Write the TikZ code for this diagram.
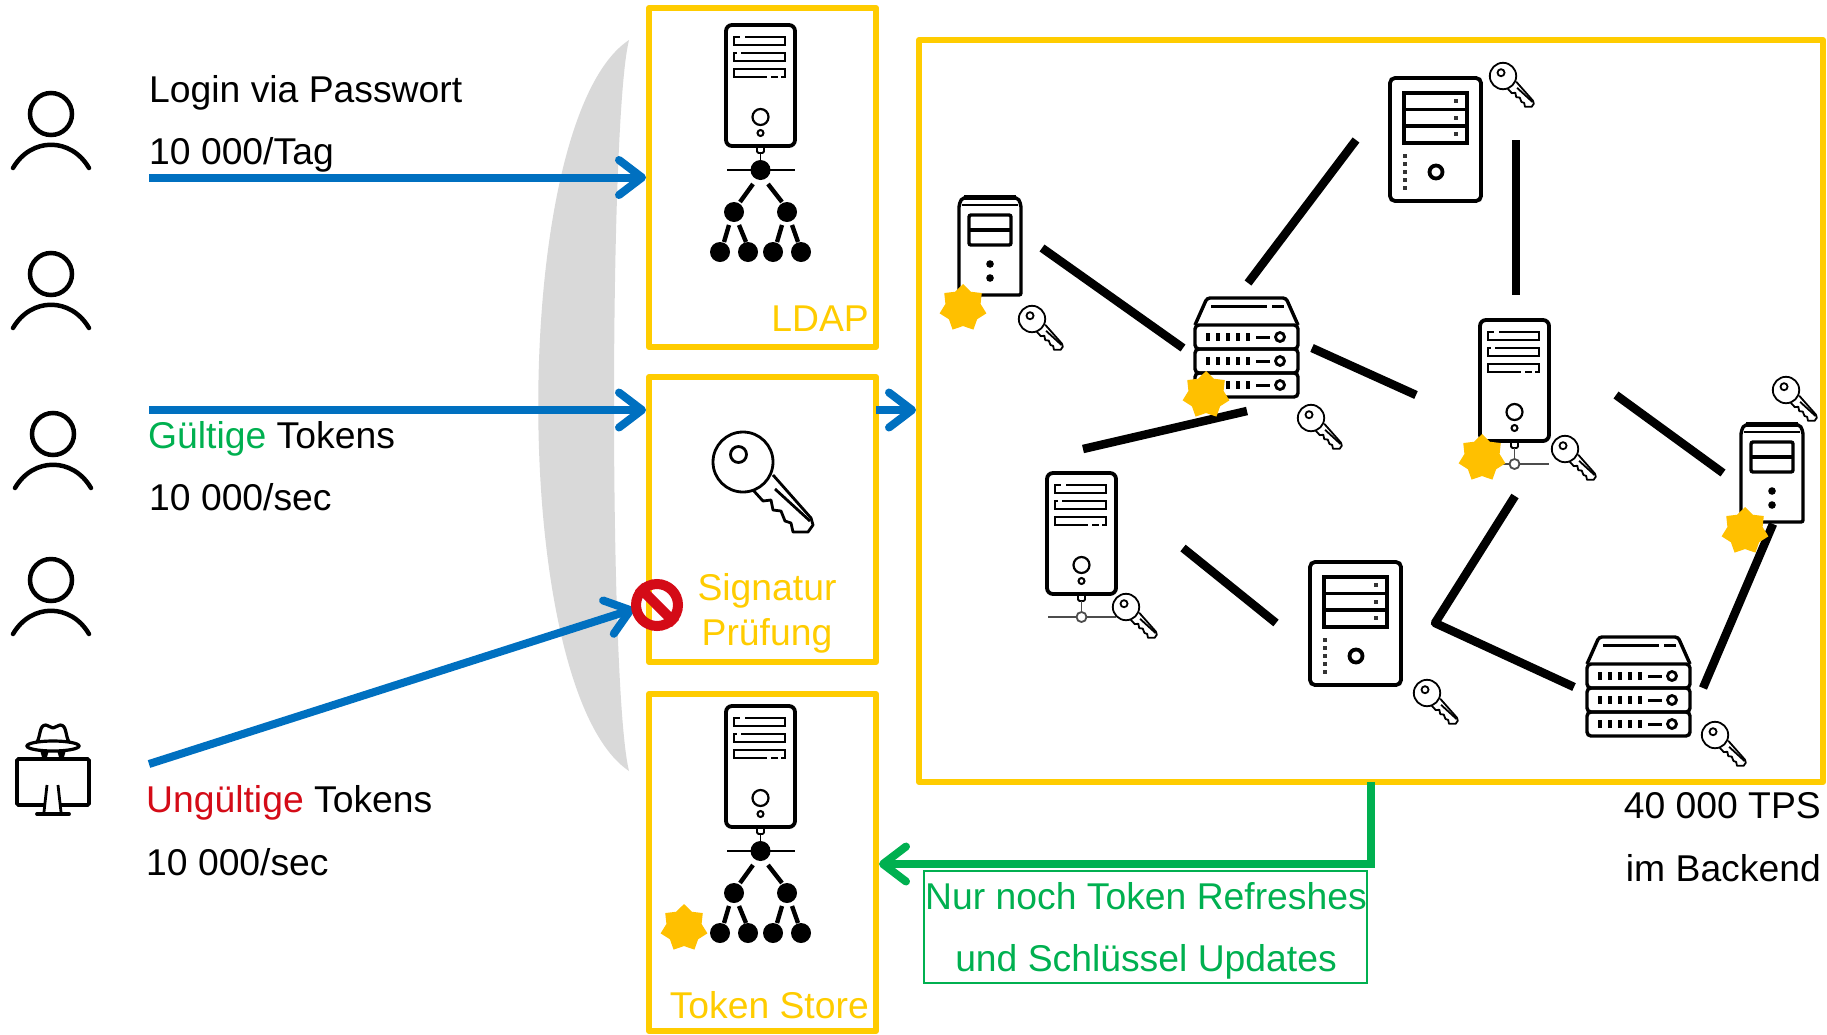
\documentclass[tikz,border=0pt]{standalone}
\usepackage{fontspec}
\setmainfont{Liberation Sans}
\usetikzlibrary{calc,arrows.meta,shapes.geometric}

\definecolor{boxYellow}{HTML}{FFCC00}
\definecolor{starYellow}{HTML}{FFC000}
\definecolor{flowBlue}{HTML}{0070C0}
\definecolor{okGreen}{HTML}{00B050}
\definecolor{badRed}{HTML}{D40B17}
\definecolor{shieldGray}{HTML}{D9D9D9}

\tikzset{
	sysbox/.style={draw=boxYellow,line width=6pt,line join=round,outer sep=0pt,inner sep=0pt},
	bigtext/.style={inner sep=0pt,font=\fontsize{37.3}{45}\selectfont},
	yellowtext/.style={bigtext,text=boxYellow},
	flow/.style={draw=flowBlue,line width=8pt,shorten >=3pt,-{Straight Barb[length=23pt,width=35pt,round]}},
	backflow/.style={draw=okGreen,line width=8pt,shorten >=3pt,-{Straight Barb[length=23pt,width=35pt,round]}},
	link/.style={draw=black,line width=8.5pt},
	burst/.style={star,star points=7,star point ratio=1.33,minimum size=48pt,inner sep=0pt,fill=starYellow},
	usericon/.pic={
		\draw[line width=4.5pt] (0,0) circle[radius=21];
		\draw[line width=4.5pt,line cap=round] (-38,54) .. controls (-20,23) and (20,23) .. (38,54);
	},
	spyicon/.pic={
		\draw[line width=3.6pt,rounded corners=1.5pt] (0,0) rectangle (72,46);
		\fill[white] (30,26) -- (41,26) -- (44,53) -- (27,53) -- cycle;
		\draw[line width=2.8pt] (30,26) -- (27,53);
		\draw[line width=2.8pt] (41,26) -- (44,53);
		\draw[line width=3.8pt,line cap=round] (20,55) -- (52,55);
		\draw[line width=3.2pt,fill=white] (36,-13) ellipse[x radius=26,y radius=5];
		\draw[line width=3.2pt,line join=round] (20,-17) .. controls (24,-24) and (22,-34) .. (29,-34) .. controls (32,-34) and (33,-31) .. (36,-31) .. controls (39,-31) and (40,-34) .. (43,-34) .. controls (50,-34) and (48,-24) .. (52,-17);
		\fill (23,-9) -- (32,-9) -- (30,-2) -- (25,-2) -- cycle;
		\fill (40,-9) -- (49,-9) -- (47,-2) -- (42,-2) -- cycle;
	},
	towericon/.pic={
		\draw[line width=3.8pt,rounded corners=6pt] (0,0) rectangle (69,121);
		\foreach \s in {12,28,44}{
			\draw[line width=2.4pt] (8,\s) rectangle (59,\s+8);
		}
		\draw[white,line width=3pt] (14,12) -- (19,12);
		\draw[white,line width=3pt] (11,28) -- (15,28);
		\draw[white,line width=3pt] (41,52) -- (45,52);
		\draw[white,line width=3pt] (52,52) -- (55,52);
		\draw[line width=2.2pt] (34.5,92) circle[radius=8];
		\draw[line width=2pt] (34.5,108) circle[radius=3];
	},
	opennet/.pic={
		\draw[line width=1.8pt,rounded corners=1.5pt] (31,121) rectangle (38,128);
		\draw[line width=1.5pt,black!70] (34.5,128) -- (34.5,139);
		\draw[line width=1.5pt,black!70] (1,144) -- (69,144);
		\draw[line width=1.8pt,black!70,fill=white] (34.5,144) circle[radius=5];
	},
	treeicon/.pic={
		\draw[line width=1.8pt,rounded corners=1.5pt] (31,121) rectangle (38,128);
		\draw[line width=1.5pt] (34.5,128) -- (34.5,140);
		\draw[line width=1.5pt] (1,145) -- (69,145);
		\fill (34.5,145) circle[radius=10];
		\foreach \x in {8,61}{
			\fill (\x,187) circle[radius=10];
		}
		\foreach \x in {-6,22,47,75}{
			\fill (\x,227) circle[radius=10];
		}
		\draw[line width=4.4pt] (27,159) -- (14,177);
		\draw[line width=4.4pt] (42,159) -- (56,177);
		\draw[line width=4.4pt] (3,200) -- (-2,217);
		\draw[line width=4.4pt] (13,200) -- (20,217);
		\draw[line width=4.4pt] (56,200) -- (51,217);
		\draw[line width=4.4pt] (66,200) -- (72,217);
	},
	slimicon/.pic={
		\draw[line width=3.4pt,rounded corners=2pt] (0,8) -- (3,1) -- (59,1) -- (62,8) -- (62,98) -- (0,98) -- cycle;
		\draw[line width=2pt] (3,8) -- (59,8);
		\draw[line width=5pt] (5,0) -- (57,0);
		\draw[line width=3.4pt,rounded corners=2pt] (10,18) rectangle (52,48);
		\draw[line width=3.4pt] (10,33) -- (52,33);
		\fill (31,67) circle[radius=3.8];
		\fill (31,81) circle[radius=3.8];
	},
	wideicon/.pic={
		\draw[line width=3.8pt,rounded corners=5pt] (0,0) rectangle (91,123);
		\draw[line width=3.6pt] (14,15) rectangle (77,65);
		\draw[line width=3.6pt] (14,31.5) -- (77,31.5);
		\draw[line width=3.6pt] (14,48) -- (77,48);
		\foreach \s in {23,39.5,56}{
			\fill[black!80] (64,\s-2) rectangle (68,\s+2);
		}
		\foreach \s in {78,86,94,102,110}{
			\fill[black!80] (13,\s-2) rectangle (17,\s+2);
		}
		\draw[line width=3.8pt] (46,94) circle[radius=6.5];
	},
	rackicon/.pic={
		\draw[line width=3.4pt,rounded corners=3pt] (0,28) -- (12,1) -- (91,1) -- (103,28);
		\draw[line width=3pt] (16,9) -- (72,9);
		\draw[line width=3pt] (77,9) -- (89,9);
		\foreach \s in {28,52,76}{
			\draw[line width=3.4pt,rounded corners=4pt] (0,\s) rectangle (103,\s+24);
			\foreach \t in {13,23,33,43,53}{
				\draw[line width=3.4pt] (\t,\s+8) -- (\t,\s+16);
			}
			\draw[line width=3pt] (61,\s+12) -- (75,\s+12);
			\draw[line width=2.8pt] (85,\s+12) circle[radius=4.5];
		}
	},
	keyicon/.pic={
		\draw[line join=round] (0,0) circle[radius=30];
		\draw (-4.5,-7.5) circle[radius=8];
		\draw[line join=round] (10,28) -- (20,39) -- (28,38) -- (30,48) -- (38,49) -- (42,59) -- (48,61) -- (50,70) -- (65,70) -- (70,63) -- (68,56) -- (30,13);
		\draw (32,27) -- (67,59);
	},
}

\begin{document}
\begin{tikzpicture}[x=1pt,y=-1pt]
	\useasboundingbox (0,0) rectangle (1827,1034);

	% shield in front of the services
	\fill[shieldGray] (629,40) .. controls (508,120) and (508,690) .. (629,771) .. controls (609,690) and (609,120) .. (629,40) -- cycle;

	\node[sysbox,minimum width=227pt,minimum height=339pt] (ldapbox) at (762.5,177.5) {};
	\node[sysbox,minimum width=227pt,minimum height=285pt] (sigbox) at (762.5,519.5) {};
	\node[sysbox,minimum width=227pt,minimum height=337pt] (storebox) at (762.5,862.5) {};
	\node[sysbox,minimum width=904pt,minimum height=742pt] (mainbox) at (1371,411) {};

	\node[yellowtext,anchor=base east] (ldaplabel) at (869,331) {LDAP};
	\node[yellowtext,anchor=base] (siglabel) at (767,600) {Signatur};
	\node[yellowtext,anchor=base] (siglabelb) at (767,645) {Prüfung};
	\node[yellowtext,anchor=base east] (storelabel) at (869,1018) {Token Store};

	% clients
	\foreach \i/\x/\y in {1/51/114,2/51/274,3/53/434,4/51/580}{
		\pic (usr\i) at (\x,\y) {usericon};
	}
	\pic (spy) at (17,759) {spyicon};

	\node[bigtext,anchor=base west] (logintext) at (149,102) {Login via Passwort};
	\node[bigtext,anchor=base west] (logintextb) at (149,164) {10 000/Tag};
	\node[bigtext,anchor=base west] (validtext) at (148,448) {\textcolor{okGreen}{Gültige} Tokens};
	\node[bigtext,anchor=base west] (validtextb) at (149,510) {10 000/sec};
	\node[bigtext,anchor=base west] (badtext) at (146,812) {\textcolor{badRed}{Ungültige} Tokens};
	\node[bigtext,anchor=base west] (badtextb) at (146,875) {10 000/sec};
	\node[bigtext,anchor=base east] (tpstext) at (1821,818) {40 000 TPS};
	\node[bigtext,anchor=base east] (tpstextb) at (1821,881) {im Backend};

	\coordinate (loginstart) at (149,177.5);
	\coordinate (validstart) at (149,410);
	\coordinate (badstart) at (149,764);
	\coordinate (badend) at (637,608);

	\draw[flow] (loginstart) -- (ldapbox.west);
	\draw[flow] (validstart) -- (validstart -| sigbox.west);
	\draw[flow] (validstart -| sigbox.east) -- (validstart -| mainbox.west);
	\draw[flow] (badstart) -- (badend);
	\draw[backflow] (mainbox.south) -- ($(mainbox.south |- storebox.east)+(0,1.5)$) -- ($(storebox.east)+(0,1.5)$);

	\node[circle,draw=badRed,line width=10pt,minimum size=42pt,inner sep=0pt] (nogo) at (657,605) {};
	\draw[draw=badRed,line width=10pt] (nogo.north west) -- (nogo.south east);

	\node[draw=okGreen,line width=2pt,minimum width=443pt,minimum height=112pt,inner sep=0pt] (refreshbox) at (1145.5,927) {};
	\node[bigtext,text=okGreen,anchor=base] (refreshtext) at (1146,909) {Nur noch Token Refreshes};
	\node[bigtext,text=okGreen,anchor=base] (refreshtextb) at (1146,971) {und Schlüssel Updates};

	% services
	\pic at (726,25) {towericon};
	\pic at (726,25) {treeicon};
	\pic at (726,706) {towericon};
	\pic at (726,706) {treeicon};
	\pic[line width=2.8pt] at (743,462) {keyicon};

	% backend mesh
	\foreach \n/\ax/\ay/\bx/\by in {a/1042/248/1183/348,b/1248/283/1356/140,c/1516/140/1516/295,d/1312/348/1416/395,e/1083/449/1247/411,f/1183/548/1276/623,g/1616/395/1723/473,h/1773/524/1703/688}{
		\coordinate (lnk\n1) at (\ax,\ay);
		\coordinate (lnk\n2) at (\bx,\by);
		\draw[link] (lnk\n1) -- (lnk\n2);
	}
	\coordinate (lnkj1) at (1515,496);
	\coordinate (lnkj2) at (1435,623);
	\coordinate (lnkj3) at (1574,687);
	\draw[link,line join=round] (lnkj1) -- (lnkj2) -- (lnkj3);

	\pic at (1390,78) {wideicon};
	\pic at (1310,562) {wideicon};
	\pic at (959,197) {slimicon};
	\pic at (1741,424) {slimicon};
	\pic at (1195,297) {rackicon};
	\pic at (1587,636) {rackicon};
	\pic at (1480,320) {towericon};
	\pic at (1480,320) {opennet};
	\pic at (1047,473) {towericon};
	\pic at (1047,473) {opennet};

	\foreach \x/\y in {1503/76,1032/319,1311/418,1565/449,1786/390,1126/607,1427/693,1715/735}{
		\pic[scale=.44,line width=1.8pt] at (\x,\y) {keyicon};
	}

	\foreach \i/\x/\y in {1/963/308,2/1206/395,3/1482/458,4/1745/531,5/684/928}{
		\node[burst] (burst\i) at (\x,\y) {};
	}
\end{tikzpicture}
\end{document}
